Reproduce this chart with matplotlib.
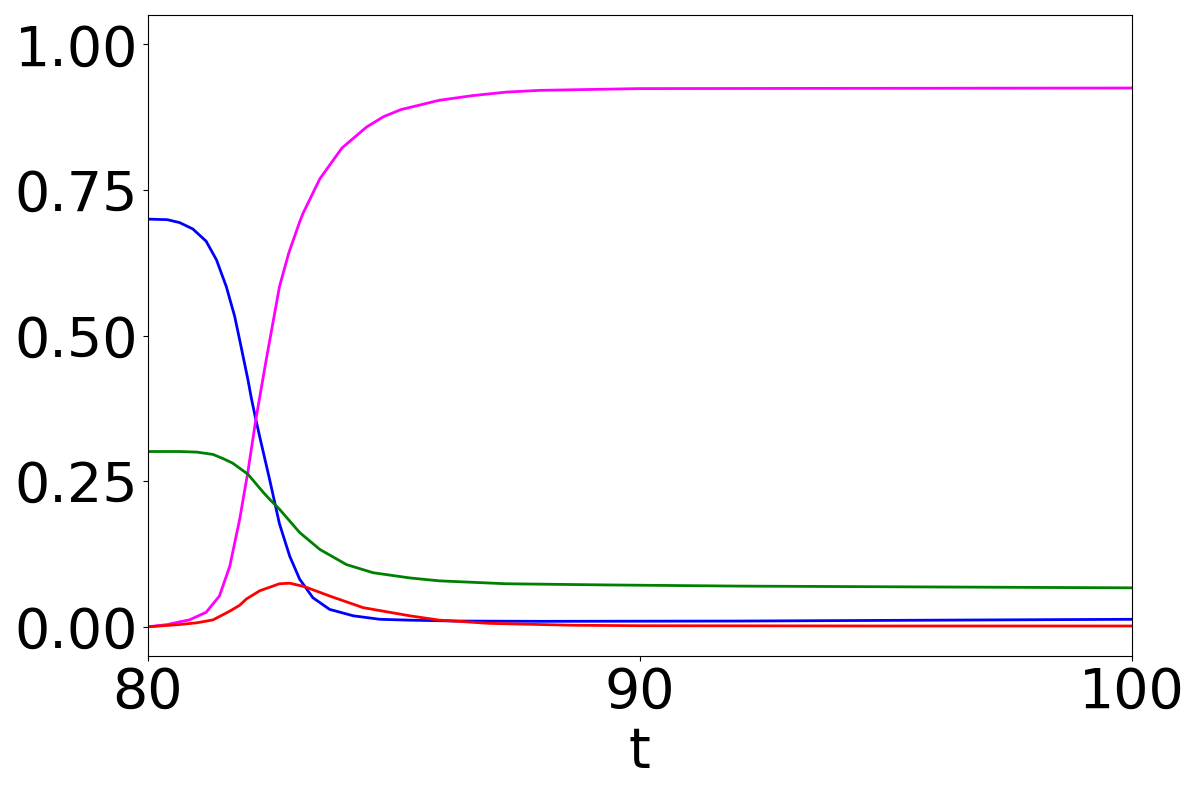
import matplotlib
matplotlib.use("Agg")
import matplotlib.pyplot as plt

# values
t_blue = [80, 80.4, 80.65, 80.92, 81.19, 81.40, 81.60, 81.77, 81.90, 82.04, 82.11, 82.20,
          82.28, 82.48, 82.68, 82.89, 83.09, 83.36, 83.70, 84.18, 84.72, 85.33, 86.27,
          88.0, 92.0, 96.0, 100]
blue = [0.700, 0.699, 0.694, 0.683, 0.662, 0.630, 0.584, 0.533, 0.481, 0.424, 0.392, 0.356,
        0.326, 0.253, 0.177, 0.121, 0.082, 0.050, 0.030, 0.019, 0.013, 0.0115, 0.010,
        0.0095, 0.010, 0.0115, 0.013]

t_magenta = [80, 80.4, 80.65, 80.85, 81.19, 81.46, 81.67, 81.87, 82.04, 82.20, 82.41, 82.68,
             82.87, 83.09, 83.16, 83.50, 83.95, 84.45, 84.80, 85.15, 85.93, 86.61, 87.29,
             87.97, 90, 100]
magenta = [0.0, 0.004, 0.0086, 0.012, 0.025, 0.053, 0.104, 0.184, 0.267, 0.356, 0.458, 0.584,
           0.642, 0.695, 0.710, 0.769, 0.822, 0.858, 0.876, 0.888, 0.904, 0.912, 0.918,
           0.921, 0.924, 0.925]

t_green = [80, 80.65, 81.0, 81.33, 81.53, 81.73, 82.04, 82.34, 82.48, 82.68, 83.09, 83.50,
           84.04, 84.58, 85.33, 85.93, 87.29, 89.32, 92.03, 100]
green = [0.301, 0.301, 0.300, 0.296, 0.289, 0.281, 0.262, 0.232, 0.219, 0.202, 0.162, 0.133,
         0.107, 0.093, 0.084, 0.079, 0.074, 0.072, 0.070, 0.067]

t_red = [80, 80.65, 81.0, 81.33, 81.67, 81.87, 82.01, 82.28, 82.68, 82.89, 83.19, 83.70,
         84.38, 85.33, 85.93, 86.27, 86.95, 88.64, 90, 95, 100]
red = [0.0, 0.004, 0.007, 0.012, 0.027, 0.037, 0.048, 0.062, 0.074, 0.075, 0.069, 0.053,
       0.033, 0.019, 0.0115, 0.0098, 0.006, 0.0028, 0.002, 0.0015, 0.0015]

x_ticks = [80, 90, 100]
y_ticks = [0.0, 0.25, 0.5, 0.75, 1.0]

fig, ax = plt.subplots(figsize=(12, 8), dpi=100)
ax.plot(t_blue, blue, color="blue", lw=2)
ax.plot(t_magenta, magenta, color="magenta", lw=2)
ax.plot(t_green, green, color="green", lw=2)
ax.plot(t_red, red, color="red", lw=2)

ax.set_xlim(80, 100)
ax.set_ylim(-0.05, 1.05)
ax.set_xticks(x_ticks)
ax.set_yticks(y_ticks)
ax.tick_params(labelsize=40)
ax.set_xlabel("t", fontsize=40)

fig.subplots_adjust(left=0.123, right=0.943, top=0.981, bottom=0.18)
fig.savefig("out.png", dpi=100)
